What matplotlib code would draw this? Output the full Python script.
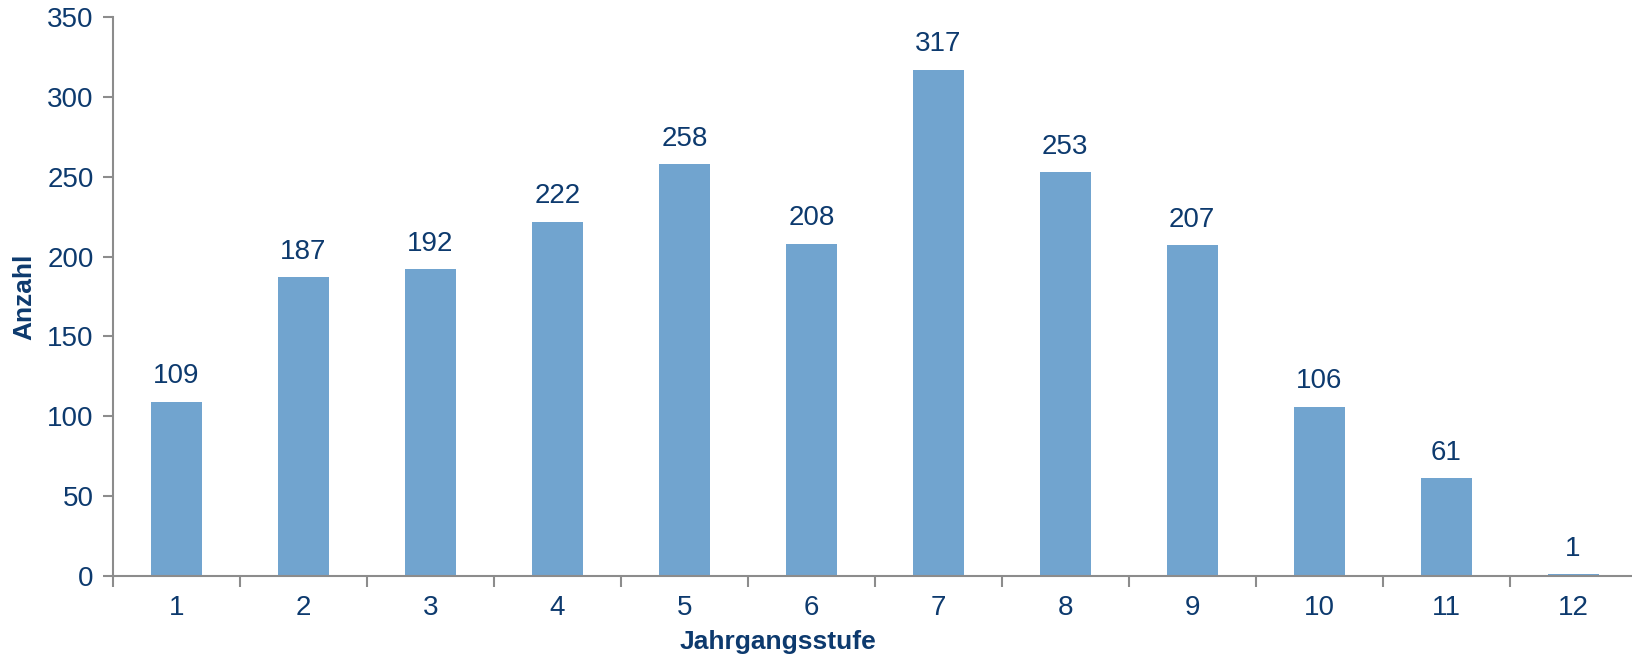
import matplotlib.pyplot as plt
import numpy as np

stufen = ['1', '2', '3', '4', '5', '6', '7', '8', '9', '10', '11', '12']
anzahl = [109, 187, 192, 222, 258, 208, 317, 253, 207, 106, 61, 1]

blau = '#71a4cf'
text_blau = '#0d3a6e'
grau = '#8c8c8c'

plt.rcParams['font.family'] = ['Liberation Sans', 'DejaVu Sans']

fig = plt.figure(figsize=(16.33, 6.58), dpi=100)
ax = fig.add_axes([0.0692, 0.1251, 0.9330, 0.8486])

x = np.arange(1, len(stufen) + 1)
bars = ax.bar(x, anzahl, width=0.4, color=blau, zorder=2)

for xi, v in zip(x, anzahl):
    ax.annotate(str(v), (xi, v), xytext=(0, 9), textcoords='offset points',
                ha='center', va='bottom', fontsize=20, color=text_blau)

ax.set_xlim(0.5, 12.5)
ax.set_ylim(0, 350)
ax.set_yticks(range(0, 351, 50))
ax.set_xticks(x)
ax.set_xticklabels(stufen)
ax.set_xticks(np.arange(0.5, 12.6, 1), minor=True)
ax.tick_params(axis='x', which='major', length=0, pad=14, labelsize=20, labelcolor=text_blau)
ax.tick_params(axis='x', which='minor', length=8, width=1.5, color=grau, direction='out')
ax.tick_params(axis='y', length=7, width=1.5, color=grau, pad=7, labelsize=20, labelcolor=text_blau)

for s in ['top', 'right']:
    ax.spines[s].set_visible(False)
for s in ['left', 'bottom']:
    ax.spines[s].set_color(grau)
    ax.spines[s].set_linewidth(1.5)

ax.set_xlabel('Jahrgangsstufe', fontsize=19, fontweight='bold', color=text_blau)
ax.xaxis.set_label_coords(0.4365, -0.097)
ax.set_ylabel('Anzahl', fontsize=19, fontweight='bold', color=text_blau, labelpad=8)

fig.savefig('out.png', dpi=100)
